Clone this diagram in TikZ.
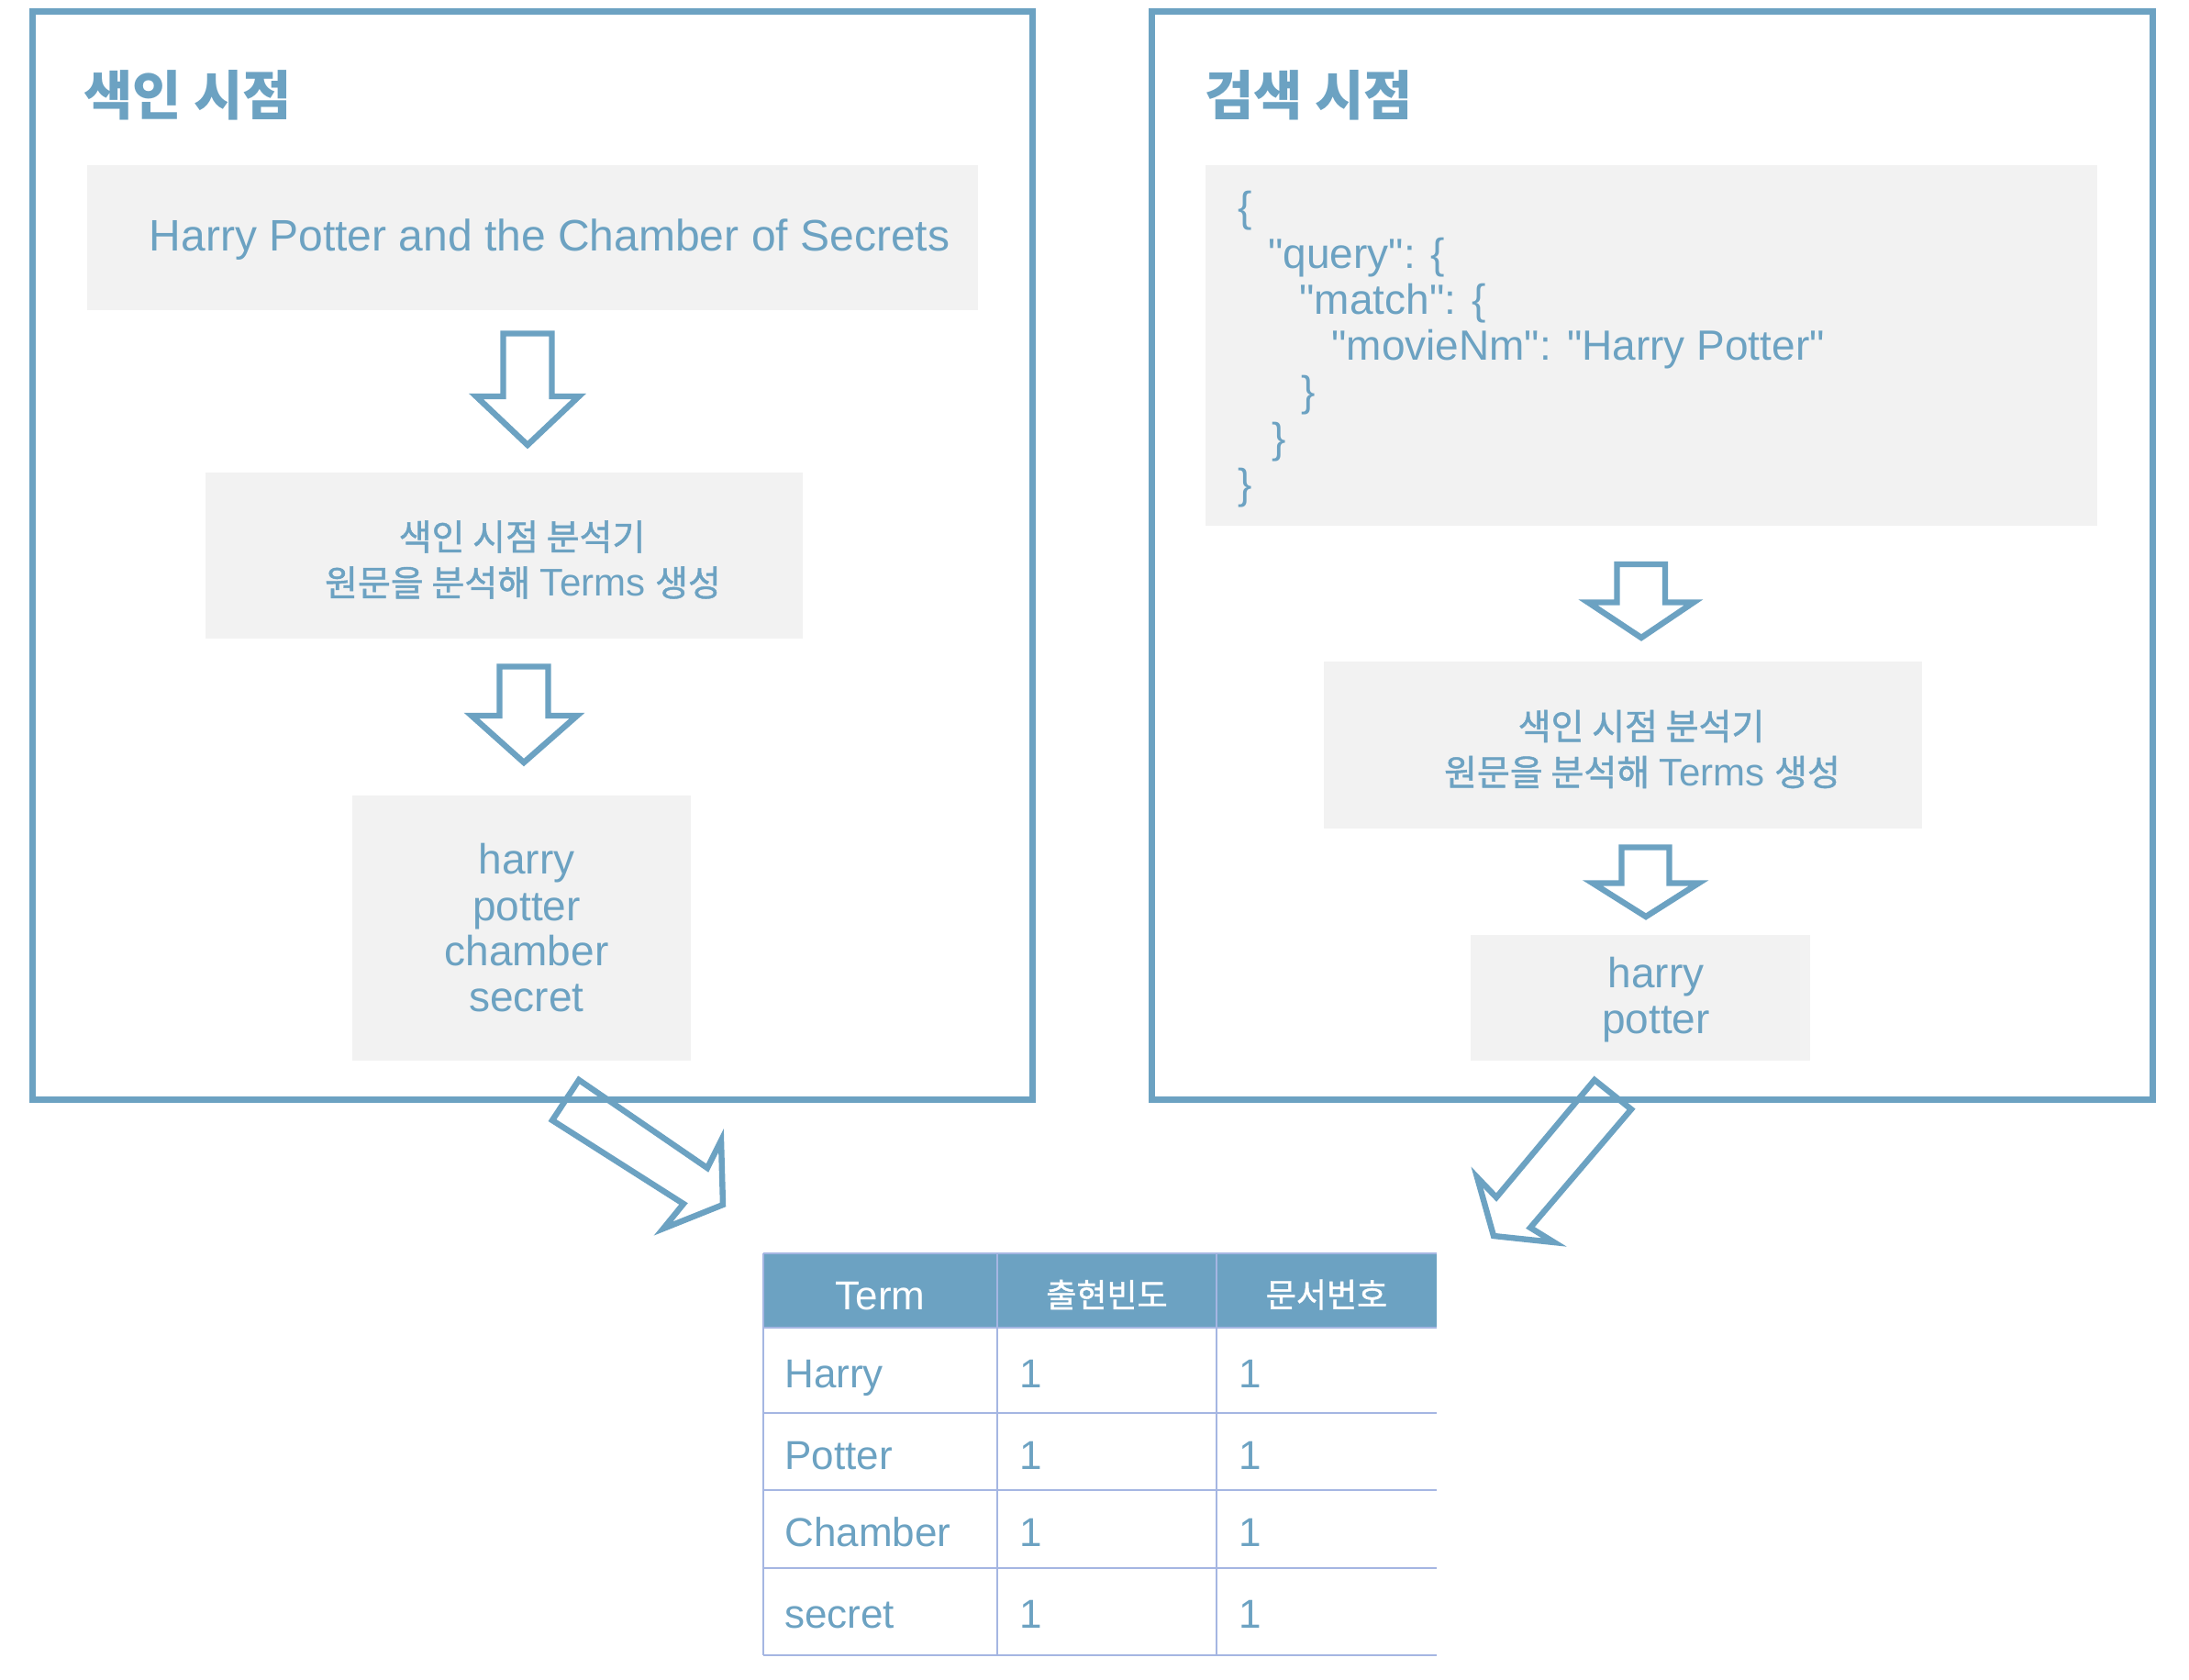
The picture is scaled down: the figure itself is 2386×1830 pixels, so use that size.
\documentclass[tikz,border=0pt]{standalone}
\usepackage{fontspec}
\setmainfont{Liberation Sans}
\newfontfamily\qfont{Liberation Sans}
\newfontfamily\krfont{Noto Sans CJK KR}[FakeBold=1.2]
\newfontfamily\krtitle{Noto Sans CJK KR}
\newcommand\kr[1]{{\krfont #1}}
\newcommand\termsword{{\fontsize{21pt}{21pt}\selectfont Terms}}
\definecolor{bl}{RGB}{108,162,194}
\definecolor{boxgray}{RGB}{242,242,242}
\definecolor{tline}{RGB}{165,182,226}
\tikzset{
  frame/.style={draw=bl, line width=3.5pt},
  graybox/.style={fill=boxgray},
  blockarrow/.style={draw=bl, line width=3.2pt, line join=miter},
  txt/.style={text=bl, inner sep=0pt},
  qtxt/.style={text=bl, inner sep=0pt, anchor=base west, font=\qfont\fontsize{23pt}{23pt}\selectfont},
  tablerule/.style={draw=tline, line width=1pt},
  fs/.style={font=\fontsize{#1}{#1}\selectfont},
}
\begin{document}
\begin{tikzpicture}[x=0.5pt,y=-0.5pt]
\fill[white] (0,0) rectangle (2386,1830);
\useasboundingbox (0,0) rectangle (2386,1830);

% frames
\draw[frame] (35.5,12.5) rectangle (1125.7,1198.5);
\draw[frame] (1255.5,12.5) rectangle (2346.5,1198.5);

% titles
\node[txt, anchor=west, fs=29pt] (t1) at (91,104) {{\krtitle\bfseries 색인 시점}};
\node[txt, anchor=west, fs=29pt] (t2) at (1313,104) {{\krtitle\bfseries 검색 시점}};

% left column boxes
\fill[graybox] (95,180) rectangle (1066,337.5);
\node[txt, anchor=base, fs=24pt] (src) at (599,273) {Harry Potter and the Chamber of Secrets};

\fill[graybox] (224,515) rectangle (874.5,695.6);
\node[txt, fs=19.5pt] (an1a) at (569,585) {\kr{색인 시점 분석기}};
\node[txt, fs=19.5pt] (an1b) at (570,635) {\kr{원문을 분석해} \termsword{} \kr{생성}};

\fill[graybox] (384,867) rectangle (753,1156);
\node[txt, anchor=base, fs=23pt] (l1) at (574,952) {harry};
\node[txt, anchor=base, fs=23pt] (l2) at (574,1003) {potter};
\node[txt, anchor=base, fs=23pt] (l3) at (574,1052) {chamber};
\node[txt, anchor=base, fs=23pt] (l4) at (574,1102) {secret};

% right column boxes
\fill[graybox] (1314,180) rectangle (2286,573);
\node[qtxt] (q1) at (1349,242) {\{};
\node[qtxt] (q2) at (1382,292.6) {"query": \{};
\node[qtxt] (q3) at (1416,342) {"match": \{};
\node[qtxt] (q4) at (1451,392.6) {"movieNm": "Harry Potter"};
\node[qtxt] (q5) at (1418,442) {\}};
\node[qtxt] (q6) at (1386,493) {\}};
\node[qtxt] (q7) at (1349,543) {\}};

\fill[graybox] (1443,721) rectangle (2094.7,902.6);
\node[txt, fs=19.5pt] (an2a) at (1789,791.5) {\kr{색인 시점 분석기}};
\node[txt, fs=19.5pt] (an2b) at (1790,841.5) {\kr{원문을 분석해} \termsword{} \kr{생성}};

\fill[graybox] (1603,1019) rectangle (1973,1156);
\node[txt, anchor=base, fs=23pt] (r1) at (1805,1076.5) {harry};
\node[txt, anchor=base, fs=23pt] (r2) at (1805,1126) {potter};

% block arrows (down)
\draw[blockarrow] (548.5,363.5) -- (601.5,363.5) -- (601.5,432) -- (631,432) -- (575,485) -- (519,432) -- (548.5,432) -- cycle;
\draw[blockarrow] (544.5,726.5) -- (597.5,726.5) -- (597.5,780) -- (629,780) -- (571,831) -- (514,780) -- (544.5,780) -- cycle;
\draw[blockarrow] (1762.5,615) -- (1815,615) -- (1815,656.5) -- (1846,656.5) -- (1789,695) -- (1731,656.5) -- (1762.5,656.5) -- cycle;
\draw[blockarrow] (1767.5,923.5) -- (1819.5,923.5) -- (1819.5,962.5) -- (1851.5,962.5) -- (1794,999) -- (1736,962.5) -- (1767.5,962.5) -- cycle;

% diagonal arrows
\draw[blockarrow] (631,1177) -- (771,1273) -- (786,1243) -- (788,1313) -- (723,1339) -- (745,1312) -- (602,1221) -- cycle;
\draw[blockarrow] (1738,1177) -- (1778,1209) -- (1668,1338) -- (1694,1354) -- (1628,1347) -- (1610,1283) -- (1631,1305) -- cycle;

% table
\fill[bl] (832,1366) rectangle (1566,1447);
\draw[tablerule] (832,1366) -- (1566,1366);
\foreach \yy in {1447,1540,1624,1709,1804} {\draw[tablerule] (832,\yy) -- (1566,\yy);}
\foreach \xx in {832,1087,1326} {\draw[tablerule] (\xx,1366) -- (\xx,1804);}

\node[inner sep=0pt, text=white, fs=22pt, anchor=base] (h1) at (959.5,1427) {Term};
\node[inner sep=0pt, text=white, fs=18pt] (h2) at (1206.5,1411) {\kr{출현빈도}};
\node[inner sep=0pt, text=white, fs=18pt] (h3) at (1446,1411) {\kr{문서번호}};

\node[txt, anchor=base west, fs=22pt] (c11) at (855,1512) {Harry};
\node[txt, anchor=base west, fs=22pt] (c21) at (855,1601) {Potter};
\node[txt, anchor=base west, fs=22pt] (c31) at (855,1685.5) {Chamber};
\node[txt, anchor=base west, fs=22pt] (c41) at (855,1774.5) {secret};
\foreach \yy/\nm in {1512/a,1601/b,1685.5/c,1774.5/d} {
  \node[txt, anchor=base west, fs=22pt] (f\nm) at (1111,\yy) {1};
  \node[txt, anchor=base west, fs=22pt] (n\nm) at (1350,\yy) {1};
}
\end{tikzpicture}
\end{document}
